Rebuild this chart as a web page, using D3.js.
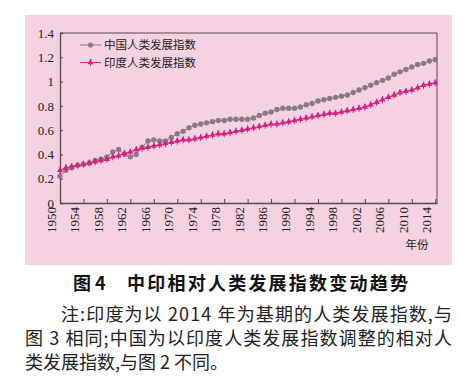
<!DOCTYPE html>
<html><head><meta charset="utf-8">
<script src="https://cdn.jsdelivr.net/npm/d3@7"></script>
<style>body{margin:0;background:#fff;}svg{display:block;}</style>
</head><body>
<svg id="c" width="476" height="384"></svg>
<script>
const years = [1950,1951,1952,1953,1954,1955,1956,1957,1958,1959,1960,1961,1962,1963,1964,1965,1966,1967,1968,1969,1970,1971,1972,1973,1974,1975,1976,1977,1978,1979,1980,1981,1982,1983,1984,1985,1986,1987,1988,1989,1990,1991,1992,1993,1994,1995,1996,1997,1998,1999,2000,2001,2002,2003,2004,2005,2006,2007,2008,2009,2010,2011,2012,2013,2014];
const china = [0.22,0.27,0.29,0.31,0.32,0.33,0.35,0.36,0.38,0.42,0.44,0.40,0.38,0.40,0.46,0.51,0.52,0.51,0.51,0.54,0.57,0.59,0.62,0.64,0.65,0.66,0.67,0.68,0.68,0.69,0.69,0.69,0.69,0.70,0.72,0.74,0.75,0.77,0.78,0.78,0.78,0.79,0.81,0.82,0.84,0.85,0.86,0.87,0.88,0.89,0.91,0.93,0.95,0.97,0.99,1.01,1.03,1.06,1.08,1.10,1.12,1.14,1.15,1.17,1.18];
const india = [0.27,0.29,0.30,0.31,0.32,0.33,0.34,0.35,0.36,0.38,0.39,0.41,0.42,0.44,0.45,0.46,0.47,0.48,0.49,0.50,0.51,0.52,0.52,0.53,0.54,0.55,0.56,0.57,0.57,0.58,0.59,0.60,0.61,0.62,0.63,0.64,0.65,0.65,0.66,0.67,0.68,0.69,0.70,0.71,0.72,0.73,0.74,0.74,0.75,0.76,0.77,0.78,0.79,0.81,0.83,0.85,0.87,0.89,0.91,0.92,0.93,0.95,0.97,0.98,0.99];
const xTicks = [1950,1954,1958,1962,1966,1970,1974,1978,1982,1986,1990,1994,1998,2002,2006,2010,2014];
const yTicks = [0,0.2,0.4,0.6,0.8,1,1.2,1.4];
const seriesNames = ["中国人类发展指数","印度人类发展指数"];
const title = ["图 4","中印相对人类发展指数变动趋势"];
const notes = ["注:印度为以 2014 年为基期的人类发展指数,与","图 3 相同;中国为以印度人类发展指数调整的相对人","类发展指数,与图 2 不同。"];

const svg = d3.select("#c");
const bg = "#f5d2e1";
const axisCol = "#5a4652";
const chinaCol = "#887b85";
const indiaCol = "#d4217f";
const serif = "'Liberation Serif','DejaVu Serif',serif";
const cjk = "'Noto Sans CJK SC','Noto Sans CJK JP',sans-serif";

svg.append("rect").attr("x",25).attr("y",15).attr("width",427).attr("height",250).attr("fill",bg);

const L=60,R=437,T=33,B=203;
const x = d3.scaleLinear().domain([1950,2014.3]).range([L,R]);
const y = d3.scaleLinear().domain([0,1.4]).range([B,T]);

// frame
svg.append("line").attr("x1",L).attr("x2",R).attr("y1",T).attr("y2",T).attr("stroke",axisCol).attr("stroke-width",1);
svg.append("line").attr("x1",R).attr("x2",R).attr("y1",T).attr("y2",B).attr("stroke",axisCol).attr("stroke-width",1);

const ya = svg.append("g").attr("transform",`translate(${L},0)`)
  .call(d3.axisLeft(y).tickValues(yTicks).tickSize(-3).tickPadding(6).tickFormat(d=>d3.format("")(d)));
ya.select(".domain").attr("stroke",axisCol).attr("stroke-width",1.3);
ya.selectAll(".tick line").attr("stroke",axisCol);
ya.selectAll("text").attr("font-family",serif).attr("font-size",13).attr("fill","#222");

const xa = svg.append("g").attr("transform",`translate(0,${B})`)
  .call(d3.axisBottom(x).tickValues(xTicks).tickSize(-4).tickSizeOuter(0).tickFormat(d3.format("d")));
xa.select(".domain").attr("stroke",axisCol).attr("stroke-width",1.3);
xa.selectAll(".tick line").attr("stroke",axisCol);
xa.selectAll("text").attr("font-family",serif).attr("font-size",13).attr("fill","#222")
  .attr("transform","rotate(-90)").attr("text-anchor","end").attr("dx","-4").attr("dy","-0.35em").attr("y",0).attr("x",0);

svg.append("text").attr("x",417).attr("y",249).attr("text-anchor","middle")
  .attr("font-family",cjk).attr("font-size",11.5).attr("fill","#222").text("年份");

const line = d3.line().x((d,i)=>x(years[i])).y(d=>y(d));
svg.append("path").datum(china).attr("d",line).attr("fill","none").attr("stroke",chinaCol).attr("stroke-width",1);
svg.append("path").datum(india).attr("d",line).attr("fill","none").attr("stroke",indiaCol).attr("stroke-width",1.2);

svg.append("g").selectAll("circle").data(china).join("circle")
  .attr("cx",(d,i)=>x(years[i])).attr("cy",d=>y(d)).attr("r",2.7).attr("fill",chinaCol);
const tri = d3.symbol().type(d3.symbolTriangle).size(16);
svg.append("g").selectAll("path").data(india).join("path")
  .attr("d",tri).attr("transform",(d,i)=>`translate(${x(years[i])},${y(d)})`).attr("fill",indiaCol);
svg.append("g").selectAll("line").data(india).join("line")
  .attr("x1",(d,i)=>x(years[i])).attr("x2",(d,i)=>x(years[i]))
  .attr("y1",d=>y(d)-3.5).attr("y2",d=>y(d)+3.5).attr("stroke",indiaCol).attr("stroke-width",1);

// legend
const lg = svg.append("g");
[0,1].forEach(k=>{
  const ly = 45 + k*17.5;
  const col = k===0?chinaCol:indiaCol;
  lg.append("line").attr("x1",80).attr("x2",101).attr("y1",ly).attr("y2",ly).attr("stroke",col).attr("stroke-width",1);
  if(k===0) lg.append("circle").attr("cx",90.5).attr("cy",ly).attr("r",2.6).attr("fill",col);
  else { lg.append("path").attr("d",tri).attr("transform",`translate(90.5,${ly})`).attr("fill",col);
         lg.append("line").attr("x1",90.5).attr("x2",90.5).attr("y1",ly-3.5).attr("y2",ly+3.5).attr("stroke",col); }
  lg.append("text").attr("x",104).attr("y",ly+4.2).attr("font-family",cjk).attr("font-size",11.5).attr("fill","#222").text(seriesNames[k]);
});

// caption
svg.append("text").attr("x",73).attr("y",290).attr("font-family",cjk).attr("font-weight","bold").attr("font-size",18).attr("fill","#111").text(title[0]);
svg.append("text").attr("x",127).attr("y",290).attr("font-family",cjk).attr("font-weight","bold").attr("font-size",18).attr("fill","#111")
  .attr("textLength",281).attr("lengthAdjust","spacing").text(title[1]);

const noteX=[61,25,25], noteY=[321,345,369], noteW=[391,427,null];
notes.forEach((t,i)=>{
  const el = svg.append("text").attr("x",noteX[i]).attr("y",noteY[i]).attr("font-family",cjk).attr("font-size",18).attr("fill","#222").text(t);
  if(noteW[i]) el.attr("textLength",noteW[i]).attr("lengthAdjust","spacing");
});
</script>
</body></html>
